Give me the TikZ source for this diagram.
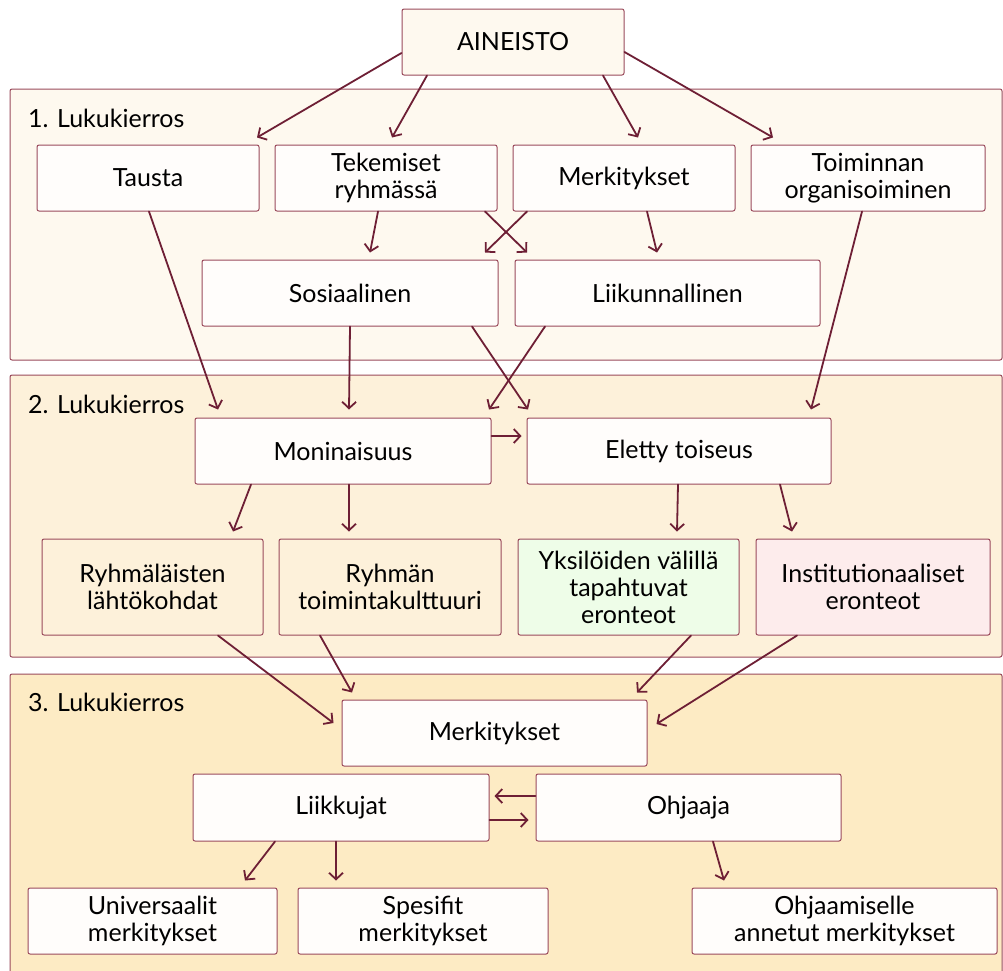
\documentclass[tikz,border=0pt]{standalone}
\usepackage{fontspec}
\setmainfont{Lato}
\usepackage{tikz}
\usetikzlibrary{arrows.meta}
\definecolor{wine}{HTML}{6E1F35}
\definecolor{boxline}{HTML}{9A4A5C}
\definecolor{roundone}{HTML}{FEF9EF}
\definecolor{roundtwo}{HTML}{FDF1DA}
\definecolor{roundthree}{HTML}{FDEBC4}
\definecolor{paper}{HTML}{FFFDFB}
\definecolor{leafgreen}{HTML}{EEFDE8}
\definecolor{rosepink}{HTML}{FDECEC}

\begin{document}
\begin{tikzpicture}[x=1pt,y=-1pt,
  panel/.style={draw=boxline,line width=1pt,rounded corners=2pt},
  box/.style={draw=boxline,line width=1pt,fill=paper,rounded corners=2pt,
    align=center,inner sep=0pt,minimum height=66pt,font=\fontsize{25}{27}\selectfont},
  round/.style={anchor=base west,inner sep=0pt,font=\fontsize{25}{27}\selectfont},
  link/.style={wine,line width=1.8pt,line cap=round,
    -{Straight Barb[length=6.5pt,width=14pt,line width=1.8pt]}}]
  \useasboundingbox (0,0) rectangle (1003,970);
  \fill[white] (0,0) rectangle (1003,970);
  % three reading rounds
  \filldraw[panel,fill=roundone] (10,89) rectangle (1002,360);
  \filldraw[panel,fill=roundtwo] (10,375) rectangle (1002,657);
  \filldraw[panel,fill=roundthree] (10,674) rectangle (1002,985);
  \node[round] (r1) at (28,127) {1. Lukukierros};
  \node[round] (r2) at (28,413) {2. Lukukierros};
  \node[round] (r3) at (28,711) {3. Lukukierros};

  \node[box,fill=roundone,minimum width=222pt] (ain) at (513,42) {AINEISTO};
  \node[box,minimum width=222pt] (tausta) at (148,178) {Tausta};
  \node[box,minimum width=222pt] (tek) at (386,178) {Tekemiset\\ryhmässä};
  \node[box,minimum width=222pt] (merk1) at (624,178) {Merkitykset};
  \node[box,minimum width=234pt] (toim) at (868,178) {Toiminnan\\organisoiminen};
  \node[box,minimum width=296pt] (sos) at (350,293) {Sosiaalinen};
  \node[box,minimum width=305pt] (liik) at (667.5,293) {Liikunnallinen};

  \node[box,minimum width=296pt] (mon) at (343,451) {Moninaisuus};
  \node[box,minimum width=304pt] (elet) at (679,451) {Eletty toiseus};
  \node[box,fill=roundtwo,minimum width=221pt,minimum height=96pt] (ryhl) at (152.5,587) {Ryhmäläisten\\lähtökohdat};
  \node[box,fill=roundtwo,minimum width=222pt,minimum height=96pt] (ryht) at (390,587) {Ryhmän\\toimintakulttuuri};
  \node[box,fill=leafgreen,minimum width=221pt,minimum height=96pt] (yks) at (628.5,587) {Yksilöiden välillä\\tapahtuvat\\eronteot};
  \node[box,fill=rosepink,minimum width=234pt,minimum height=96pt] (inst) at (873,587) {Institutionaaliset\\eronteot};

  \node[box,minimum width=305pt] (merk3) at (494.5,733) {Merkitykset};
  \node[box,minimum width=296pt,minimum height=67pt] (liikk) at (341,807.5) {Liikkujat};
  \node[box,minimum width=305pt,minimum height=67pt] (ohj) at (688.5,807.5) {Ohjaaja};
  \node[box,minimum width=249pt] (univ) at (152.5,921) {Universaalit\\merkitykset};
  \node[box,minimum width=250pt] (spes) at (423,921) {Spesifit\\merkitykset};
  \node[box,minimum width=305pt] (ohjm) at (844.5,921) {Ohjaamiselle\\annetut merkitykset};

  % round 1
  \draw[link] ([yshift=-11pt]ain.west) -- ([xshift=109pt,yshift=7pt]tausta.north);
  \draw[link] ([xshift=-86pt]ain.south) -- ([xshift=6pt,yshift=7pt]tek.north);
  \draw[link] ([xshift=90pt]ain.south) -- ([xshift=14pt,yshift=7pt]merk1.north);
  \draw[link] ([yshift=-10pt]ain.east) -- ([xshift=-95pt,yshift=7pt]toim.north);
  \draw[link] ([xshift=-8pt]tek.south) -- ([xshift=20pt,yshift=7pt]sos.north);
  \draw[link] ([xshift=99pt]tek.south) -- ([xshift=-140.5pt,yshift=7pt]liik.north);
  \draw[link] ([xshift=-97pt]merk1.south) -- ([xshift=135pt,yshift=7pt]sos.north);
  \draw[link] ([xshift=23pt]merk1.south) -- ([xshift=-10.5pt,yshift=7pt]liik.north);
  % round 2
  \draw[link] ([xshift=1pt]tausta.south) -- ([xshift=-125pt,yshift=8pt]mon.north);
  \draw[link] (sos.south) -- ([xshift=6pt,yshift=8pt]mon.north);
  \draw[link] ([xshift=122pt]sos.south) -- ([xshift=-151pt,yshift=8pt]elet.north);
  \draw[link] ([xshift=-122.5pt]liik.south) -- ([xshift=146pt,yshift=8pt]mon.north);
  \draw[link] ([xshift=-6pt]toim.south) -- ([xshift=132pt,yshift=8pt]elet.north);
  \draw[link] ([yshift=15pt]mon.east) -- ([xshift=-5pt,yshift=15pt]elet.west);
  \draw[link] ([xshift=-92pt]mon.south) -- ([xshift=80.5pt,yshift=7pt]ryhl.north);
  \draw[link] ([xshift=6pt]mon.south) -- ([xshift=-41pt,yshift=7pt]ryht.north);
  \draw[link] ([xshift=-1pt]elet.south) -- ([xshift=48.5pt,yshift=7pt]yks.north);
  \draw[link] ([xshift=101pt]elet.south) -- ([xshift=-81pt,yshift=7pt]inst.north);
  % round 3
  \draw[link] ([xshift=65.5pt]ryhl.south) -- ([xshift=-8pt,yshift=10pt]merk3.west);
  \draw[link] ([xshift=-70pt]ryht.south) -- ([xshift=-142.5pt,yshift=7pt]merk3.north);
  \draw[link] ([xshift=62.5pt]yks.south) -- ([xshift=142.5pt,yshift=7pt]merk3.north);
  \draw[link] ([xshift=-76pt]inst.south) -- ([xshift=9pt,yshift=9pt]merk3.east);
  \draw[link] ([yshift=11.5pt]ohj.west) -- ([xshift=5pt,yshift=11.5pt]liikk.east);
  \draw[link] ([yshift=-12.5pt]liikk.east) -- ([xshift=-7pt,yshift=-12.5pt]ohj.west);
  \draw[link] ([xshift=-66pt]liikk.south) -- ([xshift=92.5pt,yshift=7pt]univ.north);
  \draw[link] ([xshift=-5pt]liikk.south) -- ([xshift=-87pt,yshift=7pt]spes.north);
  \draw[link] ([xshift=24.5pt]ohj.south) -- ([xshift=-120.5pt,yshift=7pt]ohjm.north);
\end{tikzpicture}
\end{document}
